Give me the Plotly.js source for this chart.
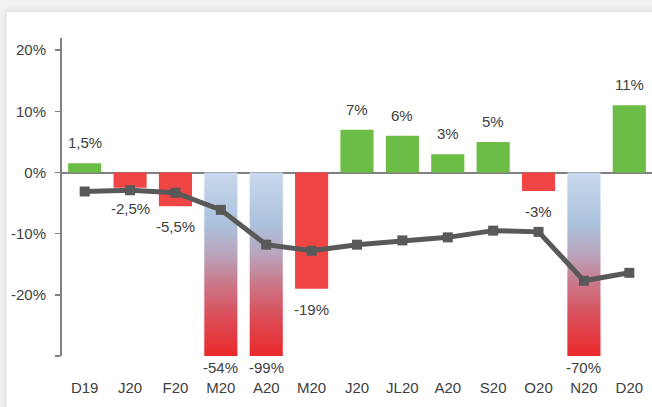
<!DOCTYPE html>
<html>
<head>
<meta charset="utf-8">
<script src="https://cdn.plot.ly/plotly-3.0.1.min.js"></script>
<style>
  html, body { margin: 0; padding: 0; background: #fff; overflow: hidden; }
  #wrap { position: relative; width: 652px; height: 407px; background: #f2f2f2; overflow: hidden; }
  #card { position: absolute; left: 7px; top: 12px; width: 720px; height: 460px; background: #fff;
          box-shadow: 0 0 7px 2px rgba(0,0,0,0.07); }
  #chart { position: absolute; left: 0; top: 0; width: 652px; height: 407px; }
</style>
</head>
<body>
<div id="wrap"><div id="card"></div><div id="chart"></div></div>
<script>
// Monthly change (bars) and running trend (line), Dec 2019 – Dec 2020
const months = ['D19', 'J20', 'F20', 'M20', 'A20', 'M20', 'J20', 'JL20', 'A20', 'S20', 'O20', 'N20', 'D20'];
const monthlyChange = [1.5, -2.5, -5.5, -54, -99, -19, 7, 6, 3, 5, -3, -70, 11];
const trend = [-3.1, -2.9, -3.3, -6.1, -11.8, -12.8, -11.8, -11.1, -10.6, -9.5, -9.7, -17.7, -16.4];
const yTicks = [-30, -20, -10, 0, 10, 20];
const yMin = -30, yMax = 22;

const FONT = 'Arial, "Liberation Sans", sans-serif';
const TEXT = '#404040';
const GREEN = '#6cbd45';
const RED = '#f04545';
const LINE = '#595959';
const AXIS = '#808080';

// Duplicate month letters (M20, J20, A20) need positional x values
const xs = months.map((_, i) => i);
const fmt = v => String(v).replace('.', ',') + '%';

const barColors = monthlyChange.map(v => v >= 0 ? GREEN : RED);

const bars = {
  type: 'bar',
  x: xs,
  y: monthlyChange,
  marker: { color: barColors, line: { width: 0 } },
  hoverinfo: 'skip'
};

const trendLine = {
  type: 'scatter',
  mode: 'lines+markers',
  x: xs,
  y: trend,
  line: { color: LINE, width: 5 },
  marker: { symbol: 'square', size: 10, color: LINE },
  cliponaxis: false,
  hoverinfo: 'skip'
};

// Value labels: above rising bars, below falling ones; bars that run
// past the bottom of the scale get their label at the axis floor
const labels = monthlyChange.map((v, i) => {
  const clipped = v < yMin;
  return {
    x: xs[i],
    y: clipped ? yMin : v,
    text: fmt(v),
    showarrow: false,
    xanchor: 'center',
    yanchor: v >= 0 ? 'bottom' : 'top',
    yshift: clipped ? -1 : (v >= 0 ? 10 : -10),
    font: { family: FONT, size: 15, color: TEXT }
  };
});

const layout = {
  width: 652,
  height: 407,
  margin: { l: 62, r: 0, t: 38, b: 51 },
  paper_bgcolor: 'rgba(0,0,0,0)',
  plot_bgcolor: 'rgba(0,0,0,0)',
  showlegend: false,
  bargap: 0.27,
  font: { family: FONT, size: 15, color: TEXT },
  xaxis: {
    range: [-0.5, xs.length - 0.5],
    tickvals: xs,
    ticktext: months,
    showgrid: false,
    zeroline: false,
    showline: false,
    ticks: 'outside',
    ticklen: 18,
    tickcolor: 'rgba(0,0,0,0)',
    tickfont: { family: FONT, size: 15, color: TEXT }
  },
  yaxis: {
    range: [yMin, yMax],
    tickvals: yTicks,
    ticktext: yTicks.map(t => t === yMin ? '' : t + '%'),
    showgrid: false,
    zeroline: true,
    zerolinecolor: AXIS,
    zerolinewidth: 2,
    showline: true,
    linecolor: AXIS,
    linewidth: 2,
    ticks: 'outside',
    ticklen: 5,
    tickwidth: 1.5,
    tickcolor: AXIS,
    ticklabelstandoff: 6,
    tickfont: { family: FONT, size: 15, color: TEXT }
  },
  annotations: labels
};

const gd = document.getElementById('chart');
Plotly.newPlot(gd, [bars, trendLine], layout, { staticPlot: true, displayModeBar: false }).then(() => {
  // Off-scale bars fade from pale blue at zero to red at the axis floor
  const ya = gd._fullLayout.yaxis;
  const ns = 'http://www.w3.org/2000/svg';
  const svg = gd.querySelector('svg.main-svg');
  let defs = svg.querySelector('defs');
  if (!defs) { defs = document.createElementNS(ns, 'defs'); svg.insertBefore(defs, svg.firstChild); }
  const grad = document.createElementNS(ns, 'linearGradient');
  grad.setAttribute('id', 'offScaleFade');
  grad.setAttribute('gradientUnits', 'userSpaceOnUse');
  grad.setAttribute('x1', 0);
  grad.setAttribute('x2', 0);
  grad.setAttribute('y1', ya.c2p(0));
  grad.setAttribute('y2', ya.c2p(yMin));
  [[0, '#c9d9ed'], [0.28, '#abc2dd'], [0.45, '#b9a4bb'], [0.62, '#cc7485'], [0.8, '#dc4a55'], [1, '#ea2a2b']]
    .forEach(([o, c]) => {
      const s = document.createElementNS(ns, 'stop');
      s.setAttribute('offset', o);
      s.setAttribute('stop-color', c);
      grad.appendChild(s);
    });
  defs.appendChild(grad);
  gd.querySelectorAll('.barlayer .trace .point path').forEach((p, i) => {
    if (monthlyChange[i] < yMin) p.style.fill = 'url(#offScaleFade)';
  });
});
</script>
</body>
</html>
